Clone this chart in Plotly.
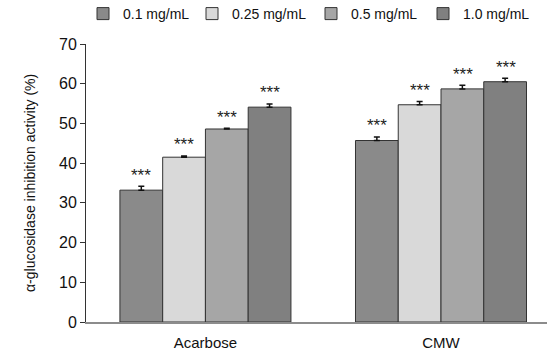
import plotly.graph_objects as go

groups = ["Acarbose", "CMW"]
series_names = ["0.1 mg/mL", "0.25 mg/mL", "0.5 mg/mL", "1.0 mg/mL"]
values = {
    "0.1 mg/mL": [33.2, 45.7],
    "0.25 mg/mL": [41.5, 54.7],
    "0.5 mg/mL": [48.6, 58.7],
    "1.0 mg/mL": [54.1, 60.5],
}
errors = {
    "0.1 mg/mL": [1.0, 0.9],
    "0.25 mg/mL": [0.3, 0.8],
    "0.5 mg/mL": [0.2, 0.9],
    "1.0 mg/mL": [0.8, 0.9],
}
signif = ["***", "***"]
y_ticks = [0, 10, 20, 30, 40, 50, 60, 70]

colors = ["#8a8a8a", "#d9d9d9", "#a6a6a6", "#808080"]
FONT = "Liberation Sans, Arial, sans-serif"
W, H = 547, 355

legend_ids = ["legend", "legend2", "legend3", "legend4"]
legend_text_x = [123, 232, 351, 463]

fig = go.Figure()
for name, col, lid in zip(series_names, colors, legend_ids):
    fig.add_trace(go.Bar(
        name=name, x=groups, y=values[name], legend=lid,
        marker=dict(color=col, line=dict(color="#333333", width=1)),
        error_y=dict(type="data", array=errors[name], symmetric=False,
                     arrayminus=[0] * len(groups),
                     color="#111111", thickness=1.5, width=3),
    ))

bar_px = 43
n = len(series_names)
for i, name in enumerate(series_names):
    shift = (i - (n - 1) / 2) * bar_px
    for g, grp in enumerate(groups):
        fig.add_annotation(
            x=grp, y=values[name][g] + errors[name][g], text=signif[g],
            showarrow=False, xshift=shift, yshift=11, yanchor="middle",
            font=dict(family=FONT, size=17, color="#222222"),
        )

# y-axis title
fig.add_annotation(
    xref="paper", yref="paper", x=0, y=0.5, xshift=-56, textangle=-90,
    text="α-glucosidase inhibition activity (%)", showarrow=False,
    xanchor="center", yanchor="middle",
    font=dict(family=FONT, size=14, color="#111111"),
)

legend_layouts = {}
for lid, tx in zip(legend_ids, legend_text_x):
    legend_layouts[lid] = dict(
        xref="container", yref="container",
        x=(tx - 40) / W, y=1 - 14 / H, xanchor="left", yanchor="middle",
        font=dict(family=FONT, size=14, color="#111111"),
        bgcolor="rgba(0,0,0,0)", itemwidth=30,
    )

fig.update_layout(
    width=W, height=H,
    margin=dict(l=86, r=0, t=44, b=33, autoexpand=False),
    paper_bgcolor="white", plot_bgcolor="white",
    barmode="group", bargap=0.274, bargroupgap=0,
    font=dict(family=FONT, size=14, color="#111111"),
    showlegend=True,
    **legend_layouts,
)
fig.update_xaxes(
    type="category", range=[-0.507, 1.45],
    showline=True, linecolor="#8c8c8c", linewidth=1.5,
    ticks="", tickfont=dict(family=FONT, size=15, color="#111111"),
    ticklabelstandoff=6,
    showgrid=False, zeroline=False, automargin=False,
)
fig.update_yaxes(
    range=[0, 70], tickvals=y_ticks,
    showline=True, linecolor="#333333", linewidth=1,
    ticks="outside", ticklen=5, tickcolor="#333333",
    tickfont=dict(family=FONT, size=16, color="#111111"),
    showgrid=False, zeroline=False, automargin=False,
)

fig.write_html(
    "out.html",
    config={"displayModeBar": False},
    post_script="document.body.style.margin='0';document.body.style.padding='0';",
)
